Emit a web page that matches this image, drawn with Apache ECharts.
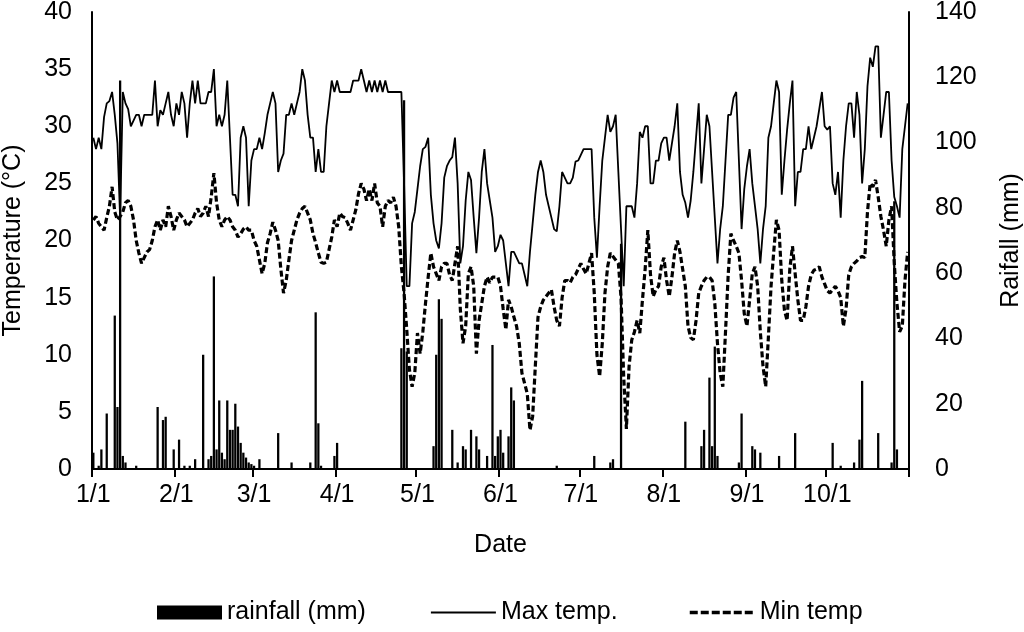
<!DOCTYPE html>
<html>
<head>
<meta charset="utf-8">
<script src="https://cdn.jsdelivr.net/npm/echarts@6/dist/echarts.min.js"></script>
<style>
html,body{margin:0;padding:0;background:#fff;}
#chart{width:1024px;height:632px;}
</style>
</head>
<body>
<div id="chart"></div>
<script>
// Daily dates 1/1 .. 10/31 (leap year)
const firstDay = Date.UTC(2020, 0, 1);
const dayCount = 305;
const categories = [];
for (let i = 0; i < dayCount; i++) {
  const d = new Date(firstDay + i * 86400000);
  categories.push((d.getUTCMonth() + 1) + '/' + d.getUTCDate());
}

// Max temperature (°C), one value per day
const maxTemp = [
  29,28,29,28,30.8,32,32.2,33,31,28.5,
  22,33,32,31.5,30,30.5,31,31,30,31,
  31,31,31,34,30,31.4,31,32,33,31,
  30,32,31,33,32,29,32,34,32,34,
  32,32,32,33,33,35,30,31,30,31,
  34,29,24,24,23,29,30,29,23,27,
  28,28,29,28,29.4,31,32,33,32,26,
  27,27.6,31,31,32,31,32,33,35,34,
  31,29,29,26,28,26,26,30,32,34,
  33,34,33,33,33,33,33,34,34,34,
  35,34,33,34,33,34,33,34,33,34,
  33,33,33,33,33,33,25,16,16,21.5,
  22.5,24.5,26.5,28,28.2,29,24,21.5,20,19.3,
  21.5,25.5,26.5,27,27.3,29,25,18,19.5,23.5,
  26,25.3,22,18.9,22,26,28,25,23.5,22,
  19,19.5,20.5,20,18,16,19,19,18.5,18,
  18,17,16,19,21.5,24,26,27,26,24,
  23,22,21,20.8,23,26,25.5,25,25,25.5,
  26.9,27,27.5,28,28,28,28,22,18.5,23,
  27,29,31,29.5,30,31,26,21,16,23,
  23,23,22,25,29.5,29,30,30,25,25,
  27,27,28.5,29,29,27,28.5,30,32,26,
  24,23.3,22,23.5,26,29,32,25,28,31,
  30,26,22,18,21,23,27,31,31,32.5,
  33,27,21,24.5,26.5,28,25,23,21,18,
  21,23,29,30,32,34,33,24,27,29.7,
  32,34,23,26,26,28,28,30,28,29,
  30,31.5,33,30,29.7,30,25,24,26,22,
  27,30,32,32,29,33,31,25,28,33.5,
  36,35.2,37,37,29,31,33,33,27,23.8,
  23,22,28,30,32
];

// Min temperature (°C), one value per day
const minTemp = [
  21.8,22.1,21.5,21.2,20.9,22,23,24.7,22.5,21.8,
  22.1,22.5,23.3,23.5,23,21.8,20,18.9,18,18.5,
  19,19.2,20,21.2,21.8,20.9,21.8,21.2,23,22.1,
  20.9,21.8,22.4,22.1,21.8,21.2,21.5,21.8,22.4,22.8,
  22.1,22.4,23,22.1,23.8,25.9,23.3,21.8,21.2,21.8,
  22.1,21.8,21.2,20.9,20.3,20.6,21,21.2,20.9,20.9,
  20,19.5,18.3,17.1,18,19.8,20.6,21.6,20.9,20,
  17.5,15.4,16.5,18.3,20,20.9,21.8,22.4,22.8,23,
  22.4,21.8,20.6,19.8,18.9,18.1,18,18.1,19.2,20.3,
  21.8,21.2,22.4,22.1,22,21.5,20.9,21.8,22.7,24.1,
  25,24.5,23.5,24.5,23.5,25,23.3,23,21.2,23,
  23.5,23.3,23.8,23,21.2,17.7,15.4,12.2,8.7,7.2,
  8.4,11.9,10.1,12,14.5,16.8,18.9,17.7,17.1,16.5,
  17.7,18,18,17,16.5,18,19.5,14,11,12.5,
  17.1,17.7,16,10.1,13,14.5,16,16.8,16.3,16.8,
  16.8,16.8,16,14,12.2,14.8,14.2,13.3,12.5,11,
  8.4,7.5,6.6,3.4,4.6,9,13.3,14.2,14.8,15.1,
  15.4,15.7,14.2,13,12.5,15,16.5,16.5,16.3,16.8,
  17,17.5,18,17.5,17.1,18,18.9,15.4,10,8.1,
  11,15.4,17.7,18.9,18.6,18.3,18,15,8,3.5,
  9,11.3,12,13,11.9,14.8,17.5,20.9,17,15.1,
  15.7,16,17.7,18.5,16.5,15.1,16.8,18.9,20,19,
  17.5,16,12.5,11.5,11.3,13,15.4,16,16.5,16.8,
  16.8,16.5,14.5,11,8.4,7.2,12,17,20.6,20,
  19.5,18.9,16.5,13.6,12.5,14.8,17.1,17.7,16,12,
  9,7.2,11.5,16,19,21.8,20.9,16.5,13.9,13,
  17.5,19.5,17.1,14.8,13,13,14.2,16,17,17.4,
  17.5,17.7,16.8,16.2,15.6,15.4,15.7,16,15.6,15,
  12.5,14,17,17.7,18,18.2,18.5,18.6,18.5,22.5,
  25,24.7,25.3,23.8,22.1,20.9,19.5,21.8,23,18,
  14.5,12,12.5,16.5,19
];

// Daily rainfall (mm)
const rainfall = [
  5,0,1,6,0,17,0,0,47,19,
  119,4,2,0,0,0,1,0,0,0,
  0,0,0,0,19,0,15,16,0,0,
  6,0,9,0,1,0,1,0,3,0,
  0,35,0,3,4,59,6,21,5,3,
  21,12,12,20,13,8,5,3.5,2,1.5,
  1,0,3,0,0,0,0,0,0,11,
  0,0,0,0,2,0,0,0,0,0,
  0,2,0,48,14,1,0,0,0,0,
  4,8,0,0,0,0,0,0,0,0,
  0,0,0,0,0,0,0,0,0,0,
  0,0,0,0,0,37,113,36,0,0,
  0,0,0,0,0,0,0,7,35,52,
  46,0,0,0,12,0,2,0,7,6,
  0,12,0,10,6,0,0,4,0,38,
  4,10,12,5,0,10,25,21,0,0,
  0,0,0,0,0,0,0,0,0,0,
  0,0,0,1,0,0,0,0,0,0,
  0,0,0,0,0,0,0,4,0,0,
  0,0,0,2,3,0,0,69,0,0,
  0,0,0,0,0,0,0,0,0,0,
  0,0,0,0,0,0,0,0,0,0,
  0,14.5,0,0,0,0,0,7,12,0,
  28,7,37.5,4,0,0,0,0,0,0,
  0,2,17,0,0,0,7,6,0,5,
  0,0,0,0,0,0,4,0,0,0,
  0,0,11,0,0,0,0,0,0,0,
  0,0,0,0,0,0,8,0,0,1,
  0,0,0,0,2,0,9,27,0,0,
  0,0,0,11,0,0,0,0,2,82,
  6,0,0,0,0
];

const FONT = "'Liberation Sans', Arial, sans-serif";
const isMonthStart = (idx, val) => String(val).split('/')[1] === '1';
const legendText = {fontFamily: FONT, fontSize: 25, color: '#000'};

const chart = echarts.init(document.getElementById('chart'), null, {renderer: 'canvas'});
chart.setOption({
  animation: false,
  backgroundColor: '#ffffff',
  textStyle: {fontFamily: FONT, color: '#000'},
  grid: {left: 92, right: 115, top: 12, bottom: 163, containLabel: false, outerBoundsMode: 'none'},
  legend: [
    {left: 157, top: 600, itemWidth: 65, itemHeight: 14, padding: 0,
     data: [{name: 'rainfall (mm)', icon: 'rect'}], textStyle: legendText},
    {left: 430, top: 600, itemWidth: 65, itemHeight: 14, padding: 0,
     data: [{name: 'Max temp.', itemStyle: {opacity: 0}, lineStyle: {width: 1.8, type: 'solid', color: '#000'}}],
     textStyle: legendText},
    {left: 688, top: 600, itemWidth: 65, itemHeight: 14, padding: 0,
     data: [{name: 'Min temp', itemStyle: {opacity: 0}, lineStyle: {width: 3.5, type: [8, 3], color: '#000'}}],
     textStyle: legendText}
  ],
  xAxis: {
    type: 'category',
    data: categories,
    boundaryGap: true,
    name: 'Date',
    nameLocation: 'middle',
    nameGap: 64,
    nameTextStyle: {fontFamily: FONT, fontSize: 25, color: '#000'},
    axisLine: {lineStyle: {color: '#000', width: 2}},
    axisTick: {show: true, interval: isMonthStart, length: 8, inside: false,
               lineStyle: {color: '#000', width: 2}},
    axisLabel: {interval: isMonthStart, margin: 14, fontFamily: FONT, fontSize: 25, color: '#000',
                hideOverlap: false},
    splitLine: {show: false}
  },
  yAxis: [
    {
      type: 'value', min: 0, max: 40, interval: 5, position: 'left',
      name: 'Temperature (°C)', nameLocation: 'middle', nameRotate: 90, nameGap: 66,
      nameTextStyle: {fontFamily: FONT, fontSize: 25, color: '#000'},
      axisLine: {show: true, lineStyle: {color: '#000', width: 2}},
      axisTick: {show: false},
      axisLabel: {margin: 20, fontFamily: FONT, fontSize: 25, color: '#000'},
      splitLine: {show: false}
    },
    {
      type: 'value', min: 0, max: 140, interval: 20, position: 'right',
      name: 'Raifall (mm)', nameLocation: 'middle', nameRotate: 90, nameGap: 90,
      nameTextStyle: {fontFamily: FONT, fontSize: 25, color: '#000'},
      axisLine: {show: true, lineStyle: {color: '#000', width: 2}},
      axisTick: {show: false},
      axisLabel: {margin: 26, fontFamily: FONT, fontSize: 25, color: '#000'},
      splitLine: {show: false}
    }
  ],
  series: [
    {
      name: 'rainfall (mm)', type: 'bar', yAxisIndex: 1, data: rainfall,
      barCategoryGap: '15%', itemStyle: {color: '#000'}, z: 1
    },
    {
      name: 'Max temp.', type: 'line', yAxisIndex: 0, data: maxTemp,
      symbol: 'none', showSymbol: false, smooth: false,
      lineStyle: {color: '#000', width: 1.8, type: 'solid'},
      itemStyle: {color: '#000'}, z: 3
    },
    {
      name: 'Min temp', type: 'line', yAxisIndex: 0, data: minTemp,
      symbol: 'none', showSymbol: false, smooth: false,
      lineStyle: {color: '#000', width: 3.2, type: [6, 3]},
      itemStyle: {color: '#000'}, z: 2
    }
  ]
});
</script>
</body>
</html>
